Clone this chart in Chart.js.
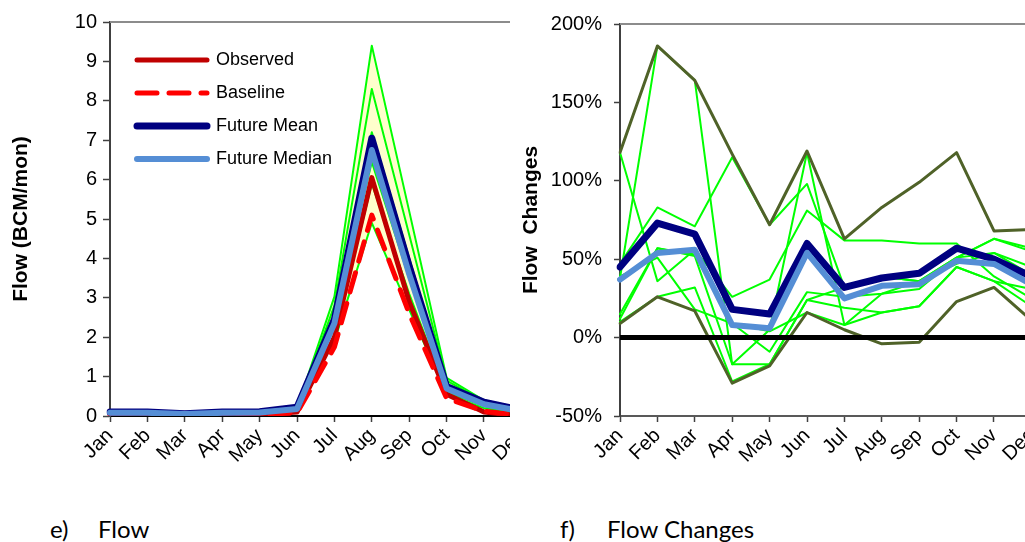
<!DOCTYPE html>
<html><head><meta charset="utf-8">
<script src="https://cdn.jsdelivr.net/npm/chart.js@4/dist/chart.umd.min.js"></script>
<style>
html,body{margin:0;padding:0;background:#fff;overflow:hidden;width:1025px;height:542px;position:relative;}
#wrapL{position:absolute;left:0;top:0;width:510px;height:480px;overflow:hidden;}
#wrapR{position:absolute;left:510px;top:0;width:515px;height:480px;overflow:hidden;}
canvas{display:block;}
.cap{position:absolute;top:515px;font-family:Lato,'Open Sans',sans-serif;font-size:24px;color:#000;white-space:pre;line-height:28px;}
</style></head><body>
<div id="wrapL"><canvas id="cL" width="540" height="480"></canvas></div>
<div id="wrapR"><canvas id="cR" width="540" height="480"></canvas></div>
<div class="cap" style="left:50px">e)</div><div class="cap" style="left:98px">Flow</div>
<div class="cap" style="left:560px">f)</div><div class="cap" style="left:607px">Flow Changes</div>
<script>
// ---------- data ----------
const months = ['Jan','Feb','Mar','Apr','May','Jun','Jul','Aug','Sep','Oct','Nov','Dec'];
const flowTicks = [0,1,2,3,4,5,6,7,8,9,10];
const changeTicks = [-50,0,50,100,150,200];

// Left panel: flow (BCM/mon)
const observed     = [0.03,0.03,0.02,0.03,0.04,0.10,2.00,6.05,2.90,0.55,0.10,0.00];
const baseline     = [0.02,0.02,0.02,0.03,0.04,0.08,1.75,5.10,2.60,0.45,0.12,0.02];
const futureMean   = [0.10,0.10,0.06,0.10,0.11,0.22,2.45,7.05,3.80,0.75,0.35,0.15];
const futureMedian = [0.08,0.08,0.05,0.08,0.09,0.18,2.35,6.75,3.60,0.70,0.30,0.12];
const gcmFlow1 = [0.10,0.10,0.06,0.10,0.10,0.20,3.03,9.40,5.20,0.97,0.40,0.20];
const gcmFlow2 = [0.10,0.10,0.06,0.10,0.10,0.20,2.80,8.30,4.60,0.90,0.38,0.18];
const gcmFlow3 = [0.10,0.09,0.05,0.09,0.10,0.20,2.60,7.20,4.00,0.80,0.35,0.15];
const gcmFlow4 = [0.09,0.09,0.05,0.09,0.10,0.19,2.40,6.45,3.50,0.75,0.33,0.14];
const gcmFlow5 = [0.10,0.10,0.06,0.10,0.11,0.21,2.30,6.80,3.80,0.70,0.30,0.12];
const gcmFlow6 = [0.10,0.10,0.06,0.10,0.11,0.22,2.50,7.00,3.70,0.65,0.30,0.10];
const gcmFlow7 = [0.08,0.08,0.05,0.08,0.09,0.18,2.00,5.90,3.10,0.60,0.25,0.08];
const gcmFlow8 = [0.08,0.08,0.05,0.08,0.09,0.18,1.90,4.90,2.70,0.55,0.20,0.05];
const gcmFlows = [gcmFlow1,gcmFlow2,gcmFlow3,gcmFlow4,gcmFlow5,gcmFlow6,gcmFlow7,gcmFlow8];

// Right panel: flow changes (%)
const changeMean   = [45,73,66,18,15,60,32,38,41,57,50,39];
const changeMedian = [37,54,56,8,6,54,25,33,34,49,47,34];
const changeUpper  = [118,186,164,117,72,119,63,83,99,118,68,69];
const changeLower  = [9,26,17,-29,-18,16,5,-4,-3,23,32,11];
const zeroLine     = [0,0,0,0,0,0,0,0,0,0,0,0];
const gcmChange1 = [38,186,164,-17,5,118,8,28,31,51,63,57];
const gcmChange2 = [47,83,71,115,72,98,32,39,36,47,54,40];
const gcmChange3 = [118,36,56,26,37,81,62,62,60,60,39,25];
const gcmChange4 = [15,57,53,9,-9,29,26,28,36,51,63,55];
const gcmChange5 = [10,26,32,-28,-17,24,19,16,20,45,36,20];
const gcmChange6 = [39,51,18,9,4,16,8,16,20,45,36,31];
const gcmChange7 = [12,57,52,-17,-17,24,32,39,36,51,54,45];
const gcmChanges = [gcmChange1,gcmChange2,gcmChange3,gcmChange4,gcmChange5,gcmChange6,gcmChange7];

// ---------- styling / helpers ----------
Chart.defaults.font.family = "'Liberation Sans', Arial, sans-serif";
Chart.defaults.color = '#000';

const envMax = months.map((_, i) => Math.max(...gcmFlows.map(s => s[i])));
const envMin = months.map((_, i) => Math.min(...gcmFlows.map(s => s[i])));

const line = (label, data, color, width, order, extra) => Object.assign({
  label, data, borderColor: color, backgroundColor: color, borderWidth: width,
  pointRadius: 0, pointHoverRadius: 0, tension: 0, fill: false, order,
  borderJoinStyle: 'round', borderCapStyle: 'round'
}, extra || {});

const frameTop = {
  id: 'frameTop',
  beforeDatasetsDraw(chart) {
    const { ctx, chartArea: a } = chart;
    ctx.save();
    ctx.strokeStyle = '#8c8c8c'; ctx.lineWidth = 2;
    ctx.beginPath(); ctx.moveTo(a.left, a.top); ctx.lineTo(a.right + 2, a.top); ctx.stroke();
    ctx.restore();
  }
};
const legendShift = {
  id: 'legendShift',
  afterLayout(chart) {
    const lg = chart.legend;
    if (lg && chart.options.plugins.legend.display) {
      lg.left = chart.chartArea.left + 12;
      lg.top = chart.chartArea.top + 14;
      lg.right = lg.left + lg.width;
      lg.bottom = lg.top + lg.height;
    }
  }
};

function scales(yMin, yMax, tickVals, fmt, title, xBorder, yTickPad, yTickLen) {
  return {
    x: {
      type: 'category', offset: false,
      afterFit: s => { s.height = 64; s.paddingLeft = 0; s.paddingRight = 0; },
      ticks: { autoSkip: false, minRotation: 45, maxRotation: 45, font: { size: 20 }, color: '#000', padding: 2 },
      grid: { drawOnChartArea: false, tickLength: 6, tickColor: '#404040', tickWidth: 1.5, offset: false },
      border: { color: xBorder, width: 2 }
    },
    y: {
      min: yMin, max: yMax,
      afterBuildTicks: s => { s.ticks = tickVals.map(v => ({ value: v })); },
      afterFit: s => { s.width = 110; },
      ticks: { font: { size: 20 }, color: '#000', padding: yTickPad, callback: fmt },
      grid: { drawOnChartArea: false, tickLength: yTickLen, tickColor: '#404040', tickWidth: 1.5 },
      border: { color: '#404040', width: 2 },
      title: { display: true, text: title, font: { size: 21, weight: 'bold' }, color: '#000', padding: { top: 9, bottom: 0 } }
    }
  };
}

// ---------- left chart ----------
const legendOrder = ['Observed', 'Baseline', 'Future Mean', 'Future Median'];
const leftSets = [
  line('Future Median', futureMedian, '#558ED5', 6, 0),
  line('Future Mean', futureMean, '#000080', 7, 1),
  line('Baseline', baseline, '#FF0000', 5, 2, { borderDash: [20, 12] }),
  line('Observed', observed, '#C00000', 5, 3),
  ...gcmFlows.map((d, k) => line('GCM ' + (k + 1), d, '#00FF00', 2, 4)),
  line('envMax', envMax, 'rgba(0,0,0,0)', 0, 5, { fill: '+1', backgroundColor: '#FFFFCC' }),
  line('envMin', envMin, 'rgba(0,0,0,0)', 0, 5)
];

new Chart(document.getElementById('cL'), {
  type: 'line',
  data: { labels: months, datasets: leftSets },
  options: {
    responsive: false, animation: false, devicePixelRatio: 1,
    layout: { padding: { left: 0, right: 18.6, top: 22, bottom: 0 } },
    scales: scales(0, 10, flowTicks, v => String(v), 'Flow (BCM/mon)', '#000000', 6, 7),
    plugins: {
      tooltip: { enabled: false },
      legend: {
        display: true, position: 'chartArea', align: 'start',
        labels: {
          usePointStyle: true, pointStyle: 'line', pointStyleWidth: 70, padding: 15,
          font: { size: 18 }, color: '#000',
          generateLabels: chart => legendOrder.map(name => {
            const i = chart.data.datasets.findIndex(d => d.label === name);
            const ds = chart.data.datasets[i];
            return { text: ds.label, strokeStyle: ds.borderColor, fillStyle: ds.borderColor,
              lineWidth: ds.borderWidth, lineDash: ds.borderDash || [], lineCap: 'round',
              pointStyle: 'line', hidden: false, datasetIndex: i, fontColor: '#000' };
          })
        }
      }
    }
  },
  plugins: [frameTop, legendShift]
});

// ---------- right chart ----------
const rightSets = [
  line('Future Median', changeMedian, '#558ED5', 6, 0),
  line('Future Mean', changeMean, '#000080', 7, 1),
  line('Zero', zeroLine, '#000000', 5, 2, { borderCapStyle: 'butt' }),
  line('Upper', changeUpper, '#4F6228', 3, 3),
  line('Lower', changeLower, '#4F6228', 3, 3),
  ...gcmChanges.map((d, k) => line('GCM ' + (k + 1), d, '#00FF00', 2, 4))
];

new Chart(document.getElementById('cR'), {
  type: 'line',
  data: { labels: months, datasets: rightSets },
  options: {
    responsive: false, animation: false, devicePixelRatio: 1,
    layout: { padding: { left: 0, right: 18.6, top: 22, bottom: 0 } },
    scales: scales(-50, 200, changeTicks, v => v + '%', 'Flow  Changes', '#595959', 12, 6),
    plugins: { tooltip: { enabled: false }, legend: { display: false } }
  },
  plugins: [frameTop]
});
</script>
</body></html>
